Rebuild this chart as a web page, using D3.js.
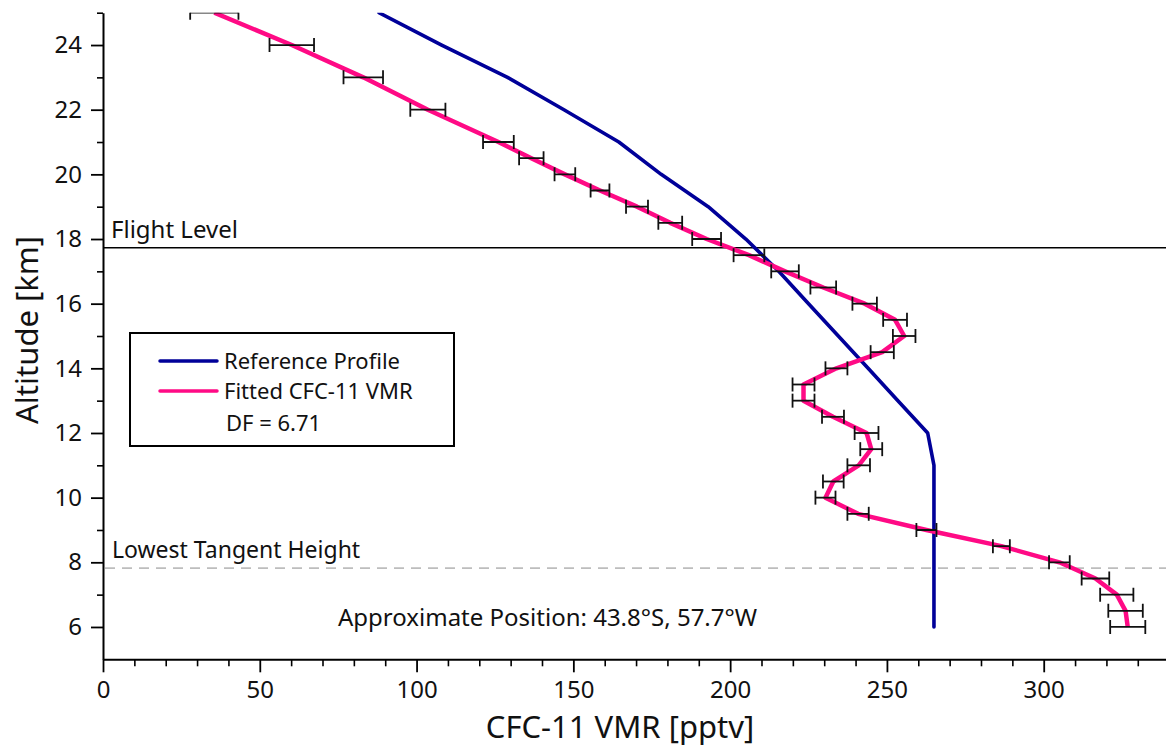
<!DOCTYPE html>
<html>
<head>
<meta charset="utf-8">
<script src="https://cdn.jsdelivr.net/npm/d3@7"></script>
<style>
body { margin: 0; background: #fff; }
svg { display: block; font-family: "Noto Sans", sans-serif; }
.axis path, .axis line { stroke: #000; }
.axis text { fill: #111; }
</style>
</head>
<body>
<svg id="chart"></svg>
<script>
// altitude levels of the retrieval [km] with fitted CFC-11 and its error [pptv]
const altitudes = [25, 24, 23, 22, 21, 20.5, 20, 19.5, 19, 18.5, 18, 17.5, 17, 16.5, 16, 15.5, 15, 14.5, 14, 13.5, 13, 12.5, 12, 11.5, 11, 10.5, 10, 9.5, 9, 8.5, 8, 7.5, 7, 6.5, 6];
const fittedVmr = [35.5, 60.2, 83, 103.6, 126.1, 136.6, 147.3, 158.5, 170.3, 180.9, 192.5, 206, 217.5, 229.7, 242.9, 252.6, 255.5, 248.5, 233.9, 223.4, 223.4, 232.8, 243.5, 245, 241, 232.9, 230.4, 240.8, 262.6, 286.5, 305, 316.5, 323.3, 326.1, 326.8];
const fittedErr = [7.7, 7.1, 6.3, 5.6, 4.9, 3.9, 3.3, 3.0, 3.5, 3.8, 4.6, 4.9, 4.4, 4.1, 3.9, 3.8, 3.6, 3.7, 3.5, 3.5, 3.5, 3.5, 3.8, 3.5, 3.6, 3.3, 3.2, 3.4, 3.2, 2.7, 3.3, 4.4, 5.3, 5.5, 5.6];

// reference (a priori) profile
const refAltitudes = [25, 24, 23, 22, 21, 20, 19, 18, 17, 16, 15, 14, 13, 12, 11, 10, 9, 8, 7, 6];
const refVmr = [88, 108, 129, 147, 164.5, 178, 193, 205, 215.5, 225, 234.5, 244, 253.5, 263, 265, 265, 265, 265, 265, 265];

// ticks
const xMajorTicks = [0, 50, 100, 150, 200, 250, 300];
const xMinorTicks = d3.range(10, 340, 10).filter(d => d % 50 !== 0);
const yMajorTicks = [6, 8, 10, 12, 14, 16, 18, 20, 22, 24];
const yMinorTicks = [7, 9, 11, 13, 15, 17, 19, 21, 23, 25];

// marker lines
const flightLevel = 17.73;
const lowestTangent = 7.82;
const positionText = "Approximate Position: 43.8°S, 57.7°W";
const dfText = "DF = 6.71";

const [w, h] = [1166, 751];
const [padLeft, padRight, padTop, padBottom] = [103, 1166, 12.7, 659.3];

const svg = d3.select("#chart").attr("width", w).attr("height", h);

//Create the xScale and the yScale
const xScale = d3.scaleLinear().domain([0, 339]).range([padLeft, padRight]);
const yScale = d3.scaleLinear().domain([5, 25]).range([padBottom, padTop]);

svg.append("defs").append("clipPath").attr("id", "plotClip")
  .append("rect").attr("x", padLeft).attr("y", padTop).attr("width", padRight - padLeft).attr("height", padBottom - padTop);

//minor ticks first, then main axes on top
svg.append("g").attr("class", "axis").attr("transform", `translate(0, ${padBottom})`)
  .call(d3.axisBottom(xScale).tickValues(xMinorTicks).tickSize(7).tickFormat(""))
  .call(g => g.select(".domain").remove())
  .selectAll("line").attr("stroke-width", 1.6);
svg.append("g").attr("class", "axis").attr("transform", `translate(${padLeft}, 0)`)
  .call(d3.axisLeft(yScale).tickValues(yMinorTicks).tickSize(6).tickFormat(""))
  .call(g => g.select(".domain").remove())
  .selectAll("line").attr("stroke-width", 1.6);

const xAxis = svg.append("g").attr("class", "axis").attr("transform", `translate(0, ${padBottom})`)
  .call(d3.axisBottom(xScale).tickValues(xMajorTicks).tickSize(13).tickSizeOuter(0).tickPadding(9));
xAxis.select(".domain").attr("stroke-width", 2);
xAxis.selectAll("line").attr("stroke-width", 1.8);
xAxis.selectAll("text").attr("font-size", 24).attr("font-family", "Noto Sans");

const yAxis = svg.append("g").attr("class", "axis").attr("transform", `translate(${padLeft}, 0)`)
  .call(d3.axisLeft(yScale).tickValues(yMajorTicks).tickSize(12).tickSizeOuter(0).tickPadding(9));
yAxis.select(".domain").attr("stroke-width", 2);
yAxis.selectAll("line").attr("stroke-width", 1.8);
yAxis.selectAll("text").attr("font-size", 24).attr("font-family", "Noto Sans");

//axis titles
svg.append("text").attr("x", 620).attr("y", 738).attr("text-anchor", "middle")
  .attr("font-size", 31).attr("fill", "#111").text("CFC-11 VMR [pptv]");
svg.append("text").attr("transform", "translate(38, 330) rotate(-90)").attr("text-anchor", "middle")
  .attr("font-size", 31).attr("fill", "#111").text("Altitude [km]");

//flight level and lowest tangent height
svg.append("line").attr("x1", padLeft).attr("x2", padRight)
  .attr("y1", yScale(flightLevel)).attr("y2", yScale(flightLevel))
  .attr("stroke", "#000").attr("stroke-width", 1.6);
svg.append("text").attr("x", 111).attr("y", yScale(flightLevel) - 10)
  .attr("font-size", 24).attr("fill", "#111").text("Flight Level");

svg.append("line").attr("x1", padLeft + 2).attr("x2", padRight)
  .attr("y1", yScale(lowestTangent)).attr("y2", yScale(lowestTangent))
  .attr("stroke", "#bdbdbd").attr("stroke-width", 1.6).attr("stroke-dasharray", "10,7");
svg.append("text").attr("x", 112).attr("y", yScale(lowestTangent) - 10)
  .attr("font-size", 23).attr("fill", "#111").text("Lowest Tangent Height");

svg.append("text").attr("x", 338).attr("y", 626)
  .attr("font-size", 24).attr("fill", "#111").text(positionText);

//data
const plot = svg.append("g").attr("clip-path", "url(#plotClip)");

const refLine = d3.line().x((d, i) => xScale(refVmr[i])).y(d => yScale(d));
plot.append("path").datum(refAltitudes).attr("d", refLine)
  .attr("fill", "none").attr("stroke", "#000099").attr("stroke-width", 3.6)
  .attr("stroke-linecap", "round").attr("stroke-linejoin", "round");

const fitLine = d3.line().x((d, i) => xScale(fittedVmr[i])).y(d => yScale(d));
plot.append("path").datum(altitudes).attr("d", fitLine)
  .attr("fill", "none").attr("stroke", "#ff0a85").attr("stroke-width", 4.5)
  .attr("stroke-linejoin", "round");

//error bars
const capH = 7;
const bars = plot.selectAll(".errbar").data(altitudes).enter().append("g").attr("class", "errbar")
  .attr("stroke", "#111").attr("stroke-width", 1.8);
bars.append("line")
  .attr("x1", (d, i) => xScale(fittedVmr[i] - fittedErr[i])).attr("x2", (d, i) => xScale(fittedVmr[i] + fittedErr[i]))
  .attr("y1", d => yScale(d)).attr("y2", d => yScale(d));
bars.append("line")
  .attr("x1", (d, i) => xScale(fittedVmr[i] - fittedErr[i])).attr("x2", (d, i) => xScale(fittedVmr[i] - fittedErr[i]))
  .attr("y1", d => yScale(d) - capH).attr("y2", d => yScale(d) + capH);
bars.append("line")
  .attr("x1", (d, i) => xScale(fittedVmr[i] + fittedErr[i])).attr("x2", (d, i) => xScale(fittedVmr[i] + fittedErr[i]))
  .attr("y1", d => yScale(d) - capH).attr("y2", d => yScale(d) + capH);

//legend
const legend = svg.append("g");
legend.append("rect").attr("x", 130).attr("y", 333).attr("width", 324).attr("height", 113)
  .attr("fill", "#fff").attr("stroke", "#000").attr("stroke-width", 2);
const legendItems = [["Reference Profile", "#000099"], ["Fitted CFC-11 VMR", "#ff0a85"]];
legendItems.forEach((d, i) => {
  const yy = 361 + i * 30;
  legend.append("line").attr("x1", 160).attr("x2", 217).attr("y1", yy).attr("y2", yy)
    .attr("stroke", d[1]).attr("stroke-width", 3.5).attr("stroke-linecap", "round");
  legend.append("text").attr("x", 224).attr("y", yy + 8).attr("font-size", 22).attr("fill", "#111").text(d[0]);
});
legend.append("text").attr("x", 226).attr("y", 431).attr("font-size", 22).attr("fill", "#111").text(dfText);
</script>
</body>
</html>
